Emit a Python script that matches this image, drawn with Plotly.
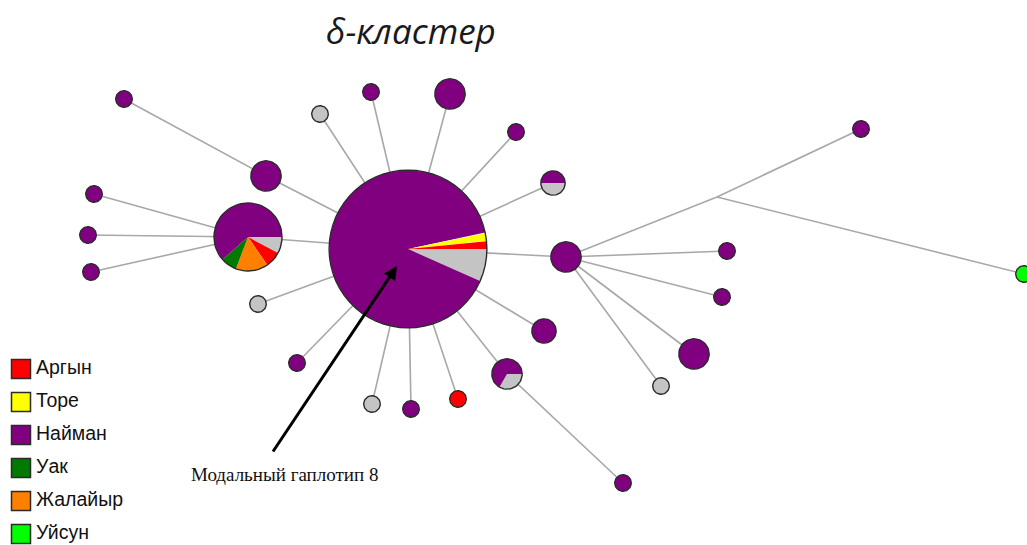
import math
import plotly.graph_objects as go

# --- groups and colours -------------------------------------------------
groups = ["Аргын", "Торе", "Найман", "Уак", "Жалайыр", "Уйсун"]
group_colors = {
    "Аргын": "#ff0000",
    "Торе": "#ffff00",
    "Найман": "#800080",
    "Уак": "#007a00",
    "Жалайыр": "#ff8000",
    "Уйсун": "#00ff00",
    "other": "#c4c4c4",
}

# --- network nodes: layout position and haplotype composition -------------
# slices listed clockwise starting from the 3 o'clock direction
node_names = ["H8", "L", "A", "B", "C", "D", "E", "F", "G", "H", "I", "J", "K",
              "M", "mv1", "N", "W1", "O", "P", "Q", "R", "S", "T", "U", "V", "W",
              "X", "Y"]
node_x = [408, 248, 124, 266, 320, 94, 88, 91, 258, 371, 450, 516, 553,
          566, 717, 861, 1024, 727, 722, 694, 661, 544, 507, 623, 297, 372,
          411, 458]
node_y = [249, 237, 99, 176, 114, 194, 235, 272, 304, 92, 94, 132, 183,
          257, 197, 129, 274, 251, 297, 354, 386, 331, 374, 483, 363, 404,
          409, 399]
node_comp = [
    [("other", 4), ("Найман", 54), ("Торе", 1), ("Аргын", 1)],
    [("other", 1), ("Аргын", 1), ("Жалайыр", 2), ("Уак", 1), ("Найман", 8)],
    [("Найман", 1)],
    [("Найман", 3)],
    [("other", 1)],
    [("Найман", 1)],
    [("Найман", 1)],
    [("Найман", 1)],
    [("other", 1)],
    [("Найман", 1)],
    [("Найман", 3)],
    [("Найман", 1)],
    [("other", 1), ("Найман", 1)],
    [("Найман", 3)],
    [],
    [("Найман", 1)],
    [("Уйсун", 1)],
    [("Найман", 1)],
    [("Найман", 1)],
    [("Найман", 3)],
    [("other", 1)],
    [("Найман", 2)],
    [("other", 1), ("Найман", 2)],
    [("Найман", 1)],
    [("Найман", 1)],
    [("other", 1)],
    [("Найман", 1)],
    [("Аргын", 1)],
]

edges = [
    ("A", "B"), ("B", "H8"), ("C", "H8"), ("H", "H8"), ("I", "H8"),
    ("J", "H8"), ("K", "H8"), ("L", "H8"), ("D", "L"), ("E", "L"), ("F", "L"),
    ("G", "H8"), ("V", "H8"), ("W", "H8"), ("X", "H8"), ("Y", "H8"),
    ("T", "H8"), ("S", "H8"), ("T", "U"), ("M", "H8"), ("M", "O"),
    ("M", "P"), ("M", "Q"), ("M", "R"), ("M", "mv1"), ("mv1", "N"),
    ("mv1", "W1"),
]

title_text = "δ-кластер"
modal_label = "Модальный гаплотип 8"


def node_radius(n):
    return 8.3 * n ** 0.55


pos = {name: (x, y) for name, x, y in zip(node_names, node_x, node_y)}

fig = go.Figure()

# edges
ex, ey = [], []
for a, b in edges:
    ex += [pos[a][0], pos[b][0], None]
    ey += [pos[a][1], pos[b][1], None]
fig.add_trace(go.Scatter(x=ex, y=ey, mode="lines",
                         line=dict(color="#a8a8a8", width=1.6),
                         hoverinfo="skip", showlegend=False))

# pie-chart nodes
for name, comp in zip(node_names, node_comp):
    total = sum(c for _, c in comp)
    if total == 0:
        continue
    cx, cy = pos[name]
    r = node_radius(total)
    start = 0.0
    for grp, cnt in comp:
        span = 360.0 * cnt / total
        angles = [start - span * k / 60 for k in range(61)]
        px = [cx + r * math.cos(math.radians(t)) for t in angles]
        py = [cy - r * math.sin(math.radians(t)) for t in angles]
        if cnt < total:
            px = [cx] + px + [cx]
            py = [cy] + py + [cy]
        fig.add_trace(go.Scatter(x=px, y=py, mode="lines", fill="toself",
                                 fillcolor=group_colors[grp],
                                 line=dict(width=0, color=group_colors[grp]),
                                 hoverinfo="skip", showlegend=False))
        start -= span
    ring = [k * 6 for k in range(61)]
    fig.add_trace(go.Scatter(
        x=[cx + r * math.cos(math.radians(t)) for t in ring],
        y=[cy - r * math.sin(math.radians(t)) for t in ring],
        mode="lines", line=dict(color="#2b2b2b", width=1.4),
        hoverinfo="skip", showlegend=False))

# legend block
leg_y = [369 + 33 * i for i in range(len(groups))]
fig.add_trace(go.Scatter(
    x=[21] * len(groups), y=leg_y, mode="markers",
    marker=dict(symbol="square", size=19,
                color=[group_colors[g] for g in groups],
                line=dict(color="#2b2b2b", width=1.5)),
    hoverinfo="skip", showlegend=False))
fig.add_trace(go.Scatter(
    x=[36] * len(groups), y=leg_y, mode="text",
    text=groups, textposition="middle right",
    textfont=dict(family="Liberation Sans, Arial", size=19.5, color="#111"),
    hoverinfo="skip", showlegend=False))

# arrow pointing to the modal haplotype
fig.add_annotation(x=397, y=266, ax=272, ay=453, xref="x", yref="y",
                   axref="x", ayref="y", text="", showarrow=True,
                   arrowhead=2, arrowsize=0.9, arrowwidth=3, arrowcolor="#000")
fig.add_annotation(x=284, y=474, xref="x", yref="y", text=modal_label,
                   showarrow=False,
                   font=dict(family="Liberation Serif, Times New Roman",
                             size=19, color="#111"))

# title
fig.add_annotation(x=411, y=30, xref="x", yref="y",
                   text="<i>" + title_text + "</i>", showarrow=False,
                   font=dict(family="Open Sans", size=35, color="#1a1a1a"))

fig.update_xaxes(range=[0, 1027], visible=False, fixedrange=True)
fig.update_yaxes(range=[545, 0], visible=False, fixedrange=True)
fig.update_layout(width=1027, height=545,
                  margin=dict(l=0, r=0, t=0, b=0),
                  plot_bgcolor="white", paper_bgcolor="white")

fig.write_html("out.html")
